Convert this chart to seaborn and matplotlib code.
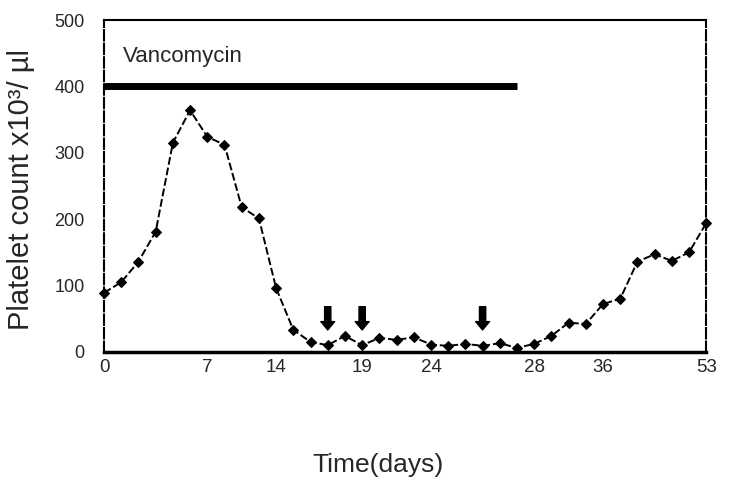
# Platelet count over time during vancomycin therapy

import seaborn as sns
import matplotlib.pyplot as plt
import pandas as pd

# one sample per evenly spaced position on the x axis
platelets = [89, 105, 136, 181, 315, 364, 324, 312, 218, 201,
             96, 33, 15, 10, 24, 10, 21, 18, 22, 11,
             9, 12, 9, 13, 6, 12, 24, 44, 42, 72,
             80, 136, 147, 137, 150, 194]
tick_pos = [0, 6, 10, 15, 19, 25, 29, 35]
tick_days = ["0", "7", "14", "19", "24", "28", "36", "53"]
arrow_pos = [13, 15, 22]
vanco_end = 24
vanco_level = 400

df = pd.DataFrame({"idx": range(len(platelets)), "count": platelets})

sns.set_style("white")
plt.rcParams["font.family"] = ["Liberation Sans", "DejaVu Sans"]

fig = plt.figure(figsize=(7.38, 4.88), dpi=100)
ax = fig.add_axes([0.141, 0.279, 0.816, 0.68])

sns.lineplot(x="idx", y="count", data=df, ax=ax, color="black",
             linestyle=(0, (4, 1.5)), linewidth=1.4, marker="D",
             markersize=5.5, markeredgecolor="black", clip_on=False)

# vancomycin bar
ax.plot([0, vanco_end], [vanco_level, vanco_level], color="black",
        linewidth=5, solid_capstyle="butt", clip_on=False)
ax.text(1.1, 445, "Vancomycin", fontsize=16, va="center", ha="left")

# arrows marking events
for p in arrow_pos:
    ax.annotate("", xy=(p, 33), xytext=(p, 68),
                arrowprops=dict(facecolor="black", edgecolor="black",
                                width=4.5, headwidth=10, headlength=6))

ax.set_xlim(0, len(platelets) - 1)
ax.set_ylim(0, 500)
ax.set_yticks([0, 100, 200, 300, 400, 500])
ax.set_xticks(range(len(platelets)))
labels = [""] * len(platelets)
for p, d in zip(tick_pos, tick_days):
    labels[p] = d
ax.set_xticklabels(labels)
ax.tick_params(axis="x", length=3, width=0.8, labelsize=13.5, pad=2, color="0.3")
ax.tick_params(axis="y", length=4, width=0.8, labelsize=13, pad=10)

for s in ["left", "right"]:
    ax.spines[s].set_linestyle((0, (5, 1.5)))
    ax.spines[s].set_linewidth(1.5)
ax.spines["top"].set_linewidth(1.5)
ax.spines["bottom"].set_linewidth(2.5)
for s in ax.spines.values():
    s.set_color("black")

ax.set_xlabel("Time(days)", fontsize=19)
ax.xaxis.set_label_coords(0.455, -0.305)
ax.set_ylabel("Platelet count x10³/ µl", fontsize=21)
ax.yaxis.set_label_coords(-0.115, 0.49)

plt.savefig("out.png", dpi=100)
